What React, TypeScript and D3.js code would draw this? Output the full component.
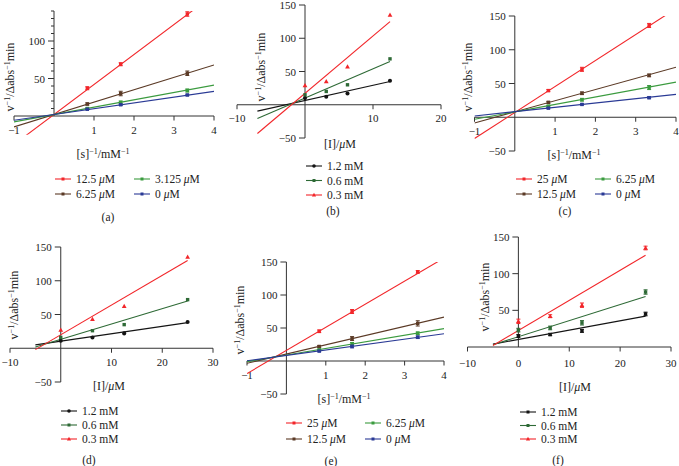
import React from "react";
import * as d3 from "d3";

const FONT = "'Liberation Serif','Times New Roman',serif";
const AXIS = "#333333";
const RED = "#f2262a";
const GREEN = "#3b9b3f";
const BROWN = "#5b3a26";
const BLUE = "#2a3a95";
const BLACK = "#141414";
const DGREEN = "#2e6a36";

const TICK_FS = 11;
const TITLE_FS = 12;
const SUP_FS = 8;
const LEG_FS = 11.5;

// ---------- Lineweaver–Burk panels (a), (c), (e) ----------
const lbX = [0.833, 1.667, 3.333];
const lbColors = [RED, BROWN, GREEN, BLUE];

const aLabels = ["12.5", "6.25", "3.125", "0"];
const aY = [[37, 69, 136], [16, 30, 57], [10, 18, 34], [9, 15, 28]];
const aErr = [[2, 2, 3], [1.5, 3, 3], [1, 2, 2], [0.5, 1, 1]];
const aSlope = [40, 16.5, 9.8, 7.7];
const aIntercept = [2, 2, 2, 2];
const aYTicks = [50, 100];
const aYMinor = [10, 20, 30, 40, 60, 70, 80, 90, 110, 120, 130, 140];
const lbXTicks = [-1, 1, 2, 3, 4];

const cLabels = ["25", "12.5", "6.25", "0"];
const cY = [[39.5, 71, 136], [22, 35.5, 62], [16.5, 26, 44], [13.5, 19, 29]];
const cErr = [[1.5, 3, 3], [1.5, 2, 2], [1, 2, 3], [1, 1, 1.5]];
const cSlope = [38.5, 16.5, 11, 6.4];
const cIntercept = [7, 8, 8, 8.3];

const eLabels = ["25", "12.5", "6.25", "0"];
const eY = [[45, 75, 135], [22, 34, 57], [17, 26, 42], [15, 22, 36]];
const eErr = [[2, 3, 2], [1.5, 3, 4], [1, 2, 2], [1, 2, 2]];
const eSlope = [35, 14, 10, 8.2];
const eIntercept = [16, 10.5, 9, 8.5];

const fullYTicks = [-50, 50, 100, 150];

// ---------- Dixon panels (b), (d), (f) ----------
const dixColors = [BLACK, DGREEN, RED];
const dixShapes = ["circle", "square", "tri"];
const dixLabels = ["1.2 mM", "0.6 mM", "0.3 mM"];

const bX = [0, 3.125, 6.25, 12.5];
const bY = [[10, 12, 17, 36], [15, 20, 30, 69], [29, 35, 57, 135]];
const bSlope = [2.29, 4.4, 8.63];
const bIntercept = [6.4, 10, 17.2];
const bFitX = [-7, 12.5];
const bXTicks = [-10, 10, 20];

const dX = [0, 6.25, 12.5, 25];
const dY = [[11, 16, 22, 39], [16, 26, 35, 72], [27, 43, 62, 135]];
const dSlope = [1.1, 2.27, 4.4];
const dIntercept = [10.5, 13.3, 20];
const dFitX = [-5, 25];
const dXTicks = [-10, 10, 20, 30];

const fX = [0, 6.25, 12.5, 25];
const fY = [[15, 17, 22, 45], [23, 26, 33, 75], [35, 42, 57, 135]];
const fErr = [[2, 1.5, 2, 2.5], [2.5, 2.5, 3, 3], [3, 2, 3, 2.5]];
const fSlope = [1.27, 2.2, 4.1];
const fIntercept = [10.3, 14, 22.5];
const fFitX = [-5, 25];
const fXTicks = [-10, 0, 10, 20, 30];
const fYTicks = [50, 100, 150];

const fmt = (v: number) => (v < 0 ? "\u2212" + Math.abs(v) : String(v));

function Marker({ shape, x, y, color, s = 3.4 }: any) {
  if (shape === "circle") return <circle cx={x} cy={y} r={s * 0.6} fill={color} />;
  if (shape === "tri")
    return (
      <path
        d={`M${x},${y - s * 0.75}L${x + s * 0.7},${y + s * 0.5}L${x - s * 0.7},${y + s * 0.5}Z`}
        fill={color}
      />
    );
  return <rect x={x - s / 2} y={y - s / 2} width={s} height={s} fill={color} />;
}

function YTitle({ x, y }: any) {
  return (
    <text transform={`translate(${x},${y}) rotate(-90)`} textAnchor="middle" fontSize={TITLE_FS} fill="#222">
      v<tspan dy={-4.5} fontSize={SUP_FS}>−1</tspan>
      <tspan dy={4.5}>/Δabs</tspan>
      <tspan dy={-4.5} fontSize={SUP_FS}>−1</tspan>
      <tspan dy={4.5}>min</tspan>
    </text>
  );
}

function XTitle({ x, y, kind }: any) {
  if (kind === "s")
    return (
      <text x={x} y={y} textAnchor="middle" fontSize={TITLE_FS} fill="#222">
        [s]<tspan dy={-4.5} fontSize={SUP_FS}>−1</tspan>
        <tspan dy={4.5}>/mM</tspan>
        <tspan dy={-4.5} fontSize={SUP_FS}>−1</tspan>
      </text>
    );
  return (
    <text x={x} y={y} textAnchor="middle" fontSize={TITLE_FS} fill="#222">
      [I]/<tspan fontStyle="italic">μ</tspan>M
    </text>
  );
}

function Panel(p: any) {
  const x = d3.scaleLinear().domain(p.xDomain).range(p.xRange);
  const y = d3.scaleLinear().domain(p.yDomain).range(p.yRange);
  const x0 = x(0);
  const y0 = y(0);
  const line = d3
    .line<number[]>()
    .x((d) => x(d[0]))
    .y((d) => y(d[1]));
  const clipId = "clip-" + p.id;
  const n = p.ys.length;
  return (
    <g>
      <defs>
        <clipPath id={clipId}>
          <rect
            x={p.xRange[0]}
            y={p.yRange[1]}
            width={p.xRange[1] - p.xRange[0]}
            height={p.yRange[0] - p.yRange[1]}
          />
        </clipPath>
      </defs>
      {/* axes */}
      <line x1={p.xRange[0]} x2={p.xRange[1]} y1={y0} y2={y0} stroke={AXIS} strokeWidth={1} />
      {p.xTicks.map((t: number) => (
        <g key={"xt" + t}>
          {t !== 0 && <line x1={x(t)} x2={x(t)} y1={y0} y2={y0 + 4.5} stroke={AXIS} />}
          <text x={x(t)} y={y0 + p.xLabelDy} textAnchor="middle" fontSize={TICK_FS} fill="#222">
            {fmt(t)}
          </text>
        </g>
      ))}
      <line x1={x0} x2={x0} y1={y(p.yAxis[0])} y2={y(p.yAxis[1])} stroke={AXIS} strokeWidth={1} />
      {(p.yMinor || []).map((t: number) => (
        <line key={"ym" + t} x1={x0 - 3} x2={x0} y1={y(t)} y2={y(t)} stroke={AXIS} />
      ))}
      {p.yTicks.map((t: number) => (
        <g key={"yt" + t}>
          <line x1={x0 - 6} x2={x0} y1={y(t)} y2={y(t)} stroke={AXIS} />
          <text x={x0 - 9} y={y(t) + 4} textAnchor="end" fontSize={TICK_FS} fill="#222">
            {fmt(t)}
          </text>
        </g>
      ))}
      {/* fit lines */}
      <g clipPath={`url(#${clipId})`}>
        {p.slopes.map((s: number, i: number) => (
          <path
            key={"fit" + i}
            d={line(p.fitX.map((fx: number) => [fx, p.intercepts[i] + s * fx])) || ""}
            stroke={p.colors[i]}
            strokeWidth={1.1}
            fill="none"
          />
        ))}
      </g>
      {/* points */}
      {d3.range(n).map((i) => (
        <g key={"pts" + i}>
          {p.ys[i].map((v: number, j: number) => {
            const px = x(p.xs[j]);
            const e = p.errs ? p.errs[i][j] : 0;
            return (
              <g key={j}>
                {e > 0 && (
                  <g stroke={p.colors[i]} strokeWidth={1}>
                    <line x1={px} x2={px} y1={y(v - e)} y2={y(v + e)} />
                    <line x1={px - 2} x2={px + 2} y1={y(v - e)} y2={y(v - e)} />
                    <line x1={px - 2} x2={px + 2} y1={y(v + e)} y2={y(v + e)} />
                  </g>
                )}
                <Marker shape={p.shapes[i]} x={px} y={y(v)} color={p.colors[i]} />
              </g>
            );
          })}
        </g>
      ))}
      <YTitle x={p.yTitle[0]} y={p.yTitle[1]} />
      <XTitle x={p.xTitle[0]} y={p.xTitle[1]} kind={p.xKind} />
      {/* legend */}
      {d3.range(n).map((i) => {
        const [lx, ly] = p.legendPos[i];
        return (
          <g key={"lg" + i}>
            <line x1={lx} x2={lx + 16} y1={ly} y2={ly} stroke={p.colors[i]} strokeWidth={1.1} />
            <Marker shape={p.shapes[i]} x={lx + 8} y={ly} color={p.colors[i]} s={3} />
            <text x={lx + 21} y={ly + 4} fontSize={LEG_FS} fill="#222">
              {p.unitMicro ? (
                <>
                  {p.labels[i]} <tspan fontStyle="italic">μ</tspan>M
                </>
              ) : (
                p.labels[i]
              )}
            </text>
          </g>
        );
      })}
      <text x={p.sub[0]} y={p.sub[1] + 4} textAnchor="middle" fontSize={LEG_FS} fill="#222">
        {p.sub[2]}
      </text>
    </g>
  );
}

export default function App() {
  const sq = ["square", "square", "square", "square"];
  return (
    <svg
      width={679}
      height={466}
      style={{ position: "absolute", left: 0, top: 0, background: "#fff", fontFamily: FONT }}
    >
      <rect width={679} height={466} fill="#fff" />
      <Panel
        id="a"
        xDomain={[-1, 4]}
        xRange={[14, 214]}
        yDomain={[-25, 140]}
        yRange={[134.75, 11]}
        yAxis={[0, 140]}
        yTicks={aYTicks}
        yMinor={aYMinor}
        xTicks={lbXTicks}
        xLabelDy={18}
        xs={lbX}
        ys={aY}
        errs={aErr}
        slopes={aSlope}
        intercepts={aIntercept}
        fitX={[-1, 4]}
        colors={lbColors}
        shapes={sq}
        labels={aLabels}
        unitMicro
        legendPos={[[55, 179], [55, 194], [134, 179], [134, 194]]}
        yTitle={[14, 77]}
        xTitle={[103, 158]}
        xKind="s"
        sub={[108, 217, "(a)"]}
      />
      <Panel
        id="b"
        xDomain={[-10, 20]}
        xRange={[237, 441]}
        yDomain={[-50, 150]}
        yRange={[138, 5]}
        yAxis={[-50, 150]}
        yTicks={fullYTicks}
        xTicks={bXTicks}
        xLabelDy={17}
        xs={bX}
        ys={bY}
        slopes={bSlope}
        intercepts={bIntercept}
        fitX={bFitX}
        colors={dixColors}
        shapes={dixShapes}
        labels={dixLabels}
        legendPos={[[306, 166], [306, 180.5], [306, 195]]}
        yTitle={[265, 67]}
        xTitle={[340, 148]}
        xKind="I"
        sub={[333, 211, "(b)"]}
      />
      <Panel
        id="c"
        xDomain={[-1, 4]}
        xRange={[474.5, 676]}
        yDomain={[-50, 150]}
        yRange={[151, 16]}
        yAxis={[-50, 150]}
        yTicks={fullYTicks}
        xTicks={lbXTicks}
        xLabelDy={18}
        xs={lbX}
        ys={cY}
        errs={cErr}
        slopes={cSlope}
        intercepts={cIntercept}
        fitX={[-1, 4]}
        colors={lbColors}
        shapes={sq}
        labels={cLabels}
        unitMicro
        legendPos={[[516, 179], [516, 194], [595, 179], [595, 194]]}
        yTitle={[472, 77]}
        xTitle={[574, 159]}
        xKind="s"
        sub={[565, 211, "(c)"]}
      />
      <Panel
        id="d"
        xDomain={[-10, 30]}
        xRange={[10, 213]}
        yDomain={[-50, 150]}
        yRange={[382, 247]}
        yAxis={[-50, 150]}
        yTicks={fullYTicks}
        xTicks={dXTicks}
        xLabelDy={18}
        xs={dX}
        ys={dY}
        slopes={dSlope}
        intercepts={dIntercept}
        fitX={dFitX}
        colors={dixColors}
        shapes={dixShapes}
        labels={dixLabels}
        legendPos={[[61, 411], [61, 425], [61, 439]]}
        yTitle={[18, 305]}
        xTitle={[109, 390]}
        xKind="I"
        sub={[89, 460, "(d)"]}
      />
      <Panel
        id="e"
        xDomain={[-1, 4]}
        xRange={[247, 444]}
        yDomain={[-50, 150]}
        yRange={[394, 262]}
        yAxis={[-50, 150]}
        yTicks={fullYTicks}
        xTicks={lbXTicks}
        xLabelDy={18}
        xs={lbX}
        ys={eY}
        errs={eErr}
        slopes={eSlope}
        intercepts={eIntercept}
        fitX={[-1, 4]}
        colors={lbColors}
        shapes={sq}
        labels={eLabels}
        unitMicro
        legendPos={[[286, 423], [286, 439], [365, 423], [365, 439]]}
        yTitle={[244, 320]}
        xTitle={[344, 403]}
        xKind="s"
        sub={[331, 461, "(e)"]}
      />
      <Panel
        id="f"
        xDomain={[-10, 30]}
        xRange={[467.5, 671]}
        yDomain={[0, 150]}
        yRange={[347, 237]}
        yAxis={[0, 150]}
        yTicks={fYTicks}
        xTicks={fXTicks}
        xLabelDy={20}
        xs={fX}
        ys={fY}
        errs={fErr}
        slopes={fSlope}
        intercepts={fIntercept}
        fitX={fFitX}
        colors={dixColors}
        shapes={["square", "square", "tri"]}
        labels={dixLabels}
        legendPos={[[520, 412], [520, 425.5], [520, 439]]}
        yTitle={[489, 297]}
        xTitle={[575, 391]}
        xKind="I"
        sub={[558, 460, "(f)"]}
      />
    </svg>
  );
}
